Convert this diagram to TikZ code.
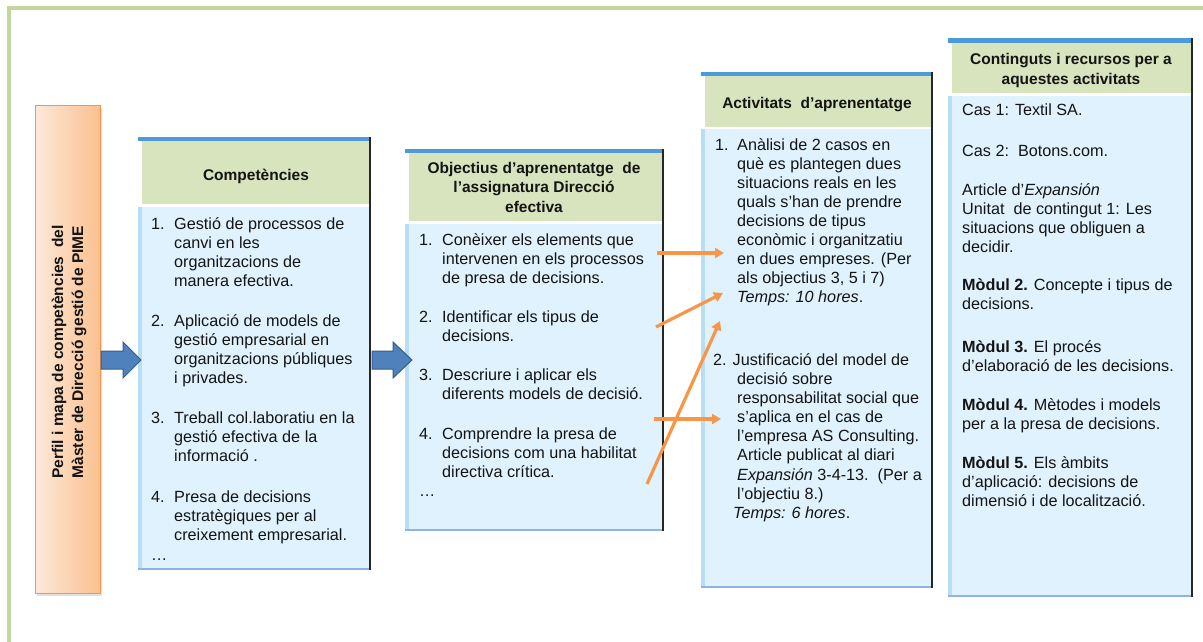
\documentclass[tikz,border=0pt]{standalone}
\usepackage{fontspec}
\setmainfont{Liberation Sans}
\usetikzlibrary{arrows.meta}
\definecolor{frameg}{HTML}{C3D69B}
\definecolor{bodyc}{HTML}{DFF2FD}
\definecolor{stripc}{HTML}{B7DEF7}
\definecolor{headc}{HTML}{D7E4BD}
\definecolor{barc}{HTML}{4C9BD8}
\definecolor{botc}{HTML}{8DB4E2}
\definecolor{orl}{HTML}{FDE9D9}
\definecolor{orr}{HTML}{FAC090}
\definecolor{orb}{HTML}{F79646}
\definecolor{arrf}{HTML}{4F81BD}
\definecolor{arrb}{HTML}{385D8A}
\definecolor{txt}{HTML}{141414}
\newcommand\mycolbox[7]{%
  \fill[bodyc] (#1,#6) rectangle (#2,#7);
  \fill[stripc] (#1,#6) rectangle (#1+4,#7);
  \fill[headc] (#1+4,#4) rectangle (#2,#5);
  \fill[barc] (#1,#3) rectangle (#2,#4);
  \draw[botc, line width=1.4pt] (#1,#7) -- (#2,#7);
  \draw[black!85, line width=1.2pt] (#2,#3) -- (#2,#7+0.7);
}
\newcommand\mylines[1]{\vtop{\halign{##\hfil\cr#1\crcr}}}
\newcommand\mylinesc[1]{\vtop{\halign{\hfil##\hfil\cr#1\crcr}}}
\begin{document}
\begin{tikzpicture}[x=1pt,y=-1pt,
  bodytxt/.style={font=\fontsize{16.2}{19.3}\selectfont, anchor=base west, inner sep=0pt, text=txt},
  headtxt/.style={font=\fontsize{15.5}{19.5}\selectfont\bfseries, anchor=base, inner sep=0pt, text=txt},
  orarrow/.style={draw=orb, line width=3.2pt, -{Triangle[length=9pt,width=10pt]}},
  blockarrow/.style={fill=arrf, draw=arrb, line width=1pt}
]
\useasboundingbox (0,0) rectangle (1203,642);
\fill[white] (0,0) rectangle (1203,642);
% frame
\fill[frameg] (7,6) rectangle (11,642);
\fill[frameg] (7,6) rectangle (1203,10);

% orange box
\fill[black!12] (37,108) rectangle (102,596);
\draw[draw=orb, line width=1pt, left color=orl, right color=orr] (35,106) rectangle (100,593);
\node[rotate=90, font=\fontsize{15.5}{20}\selectfont\bfseries, align=center, inner sep=0pt, text=txt] (perfil) at (69,352)
  {Perfil i mapa de competències\ \ del\\Màster de Direcció gestió de PIME};

% column boxes
\mycolbox{138}{370}{137}{141}{204}{207}{569}
\mycolbox{405}{663}{149}{153}{221}{224}{530}
\mycolbox{701}{932}{72}{76}{127}{129}{587}
\mycolbox{948}{1192}{38}{43}{93}{96}{596}

% block arrows
\coordinate (ba1s) at (101,360);
\coordinate (ba2s) at (372,360);
\draw[blockarrow] (ba1s) ++(0,-9) -- ++(22,0) -- ++(0,-9) -- ++(18,18) -- ++(-18,18) -- ++(0,-9) -- ++(-22,0) -- cycle;
\draw[blockarrow] (ba2s) ++(0,-9) -- ++(21,0) -- ++(0,-9) -- ++(19,18) -- ++(-19,18) -- ++(0,-9) -- ++(-21,0) -- cycle;

% headers
\node[headtxt] (hcomp) at (256,180) {Competències};
\node[headtxt] (hobj) at (534,173) {\mylinesc{Objectius d’aprenentatge\ \ de\cr l’assignatura Direcció\cr efectiva}};
\node[headtxt] (hact) at (817,108) {Activitats\ \ d’aprenentatge};
\node[headtxt] (hcont) at (1071,65) {\mylinesc{Continguts i recursos per a\cr aquestes activitats}};

% Competencies body
\node[bodytxt] (cn1) at (151,229) {1.};
\node[bodytxt] (ct1) at (174,229) {\mylines{Gestió de processos de\cr canvi en les\cr organitzacions de\cr manera efectiva.}};
\node[bodytxt] (cn2) at (151,326) {2.};
\node[bodytxt] (ct2) at (174,326) {\mylines{Aplicació de models de\cr gestió empresarial en\cr organitzacions públiques\cr i privades.}};
\node[bodytxt] (cn3) at (151,423) {3.};
\node[bodytxt] (ct3) at (174,423) {\mylines{Treball col.laboratiu en la\cr gestió efectiva de la\cr informació .}};
\node[bodytxt] (cn4) at (151,502) {4.};
\node[bodytxt] (ct4) at (174,502) {\mylines{Presa de decisions\cr estratègiques per al\cr creixement empresarial.}};
\node[bodytxt] (cdots) at (151,560) {…};

% Objectius body
\node[bodytxt] (on1) at (419,245) {1.};
\node[bodytxt] (ot1) at (442,245) {\mylines{Conèixer els elements que\cr intervenen en els processos\cr de presa de decisions.}};
\node[bodytxt] (on2) at (419,322) {2.};
\node[bodytxt] (ot2) at (442,322) {\mylines{Identificar els tipus de\cr decisions.}};
\node[bodytxt] (on3) at (419,380) {3.};
\node[bodytxt] (ot3) at (442,380) {\mylines{Descriure i aplicar els\cr diferents models de decisió.}};
\node[bodytxt] (on4) at (419,439) {4.};
\node[bodytxt] (ot4) at (442,439) {\mylines{Comprendre la presa de\cr decisions com una habilitat\cr directiva crítica.}};
\node[bodytxt] (odots) at (419,496) {…};

% Activitats body
\node[bodytxt] (an1) at (715,150) {1.};
\node[bodytxt, font=\fontsize{16.2}{19.1}\selectfont] (at1) at (737,150) {\mylines{Anàlisi de 2 casos en\cr què es plantegen dues\cr situacions reals en les\cr quals s’han de prendre\cr decisions de tipus\cr econòmic i organitzatiu\cr en dues empreses. (Per\cr als objectius 3, 5 i 7)\cr \textit{Temps: 10 hores}.}};
\node[bodytxt] (an2) at (713,365) {2. Justificació del model de};
\node[bodytxt, font=\fontsize{16.2}{19.2}\selectfont] (at2) at (737,384) {\mylines{decisió sobre\cr responsabilitat social que\cr s’aplica en el cas de\cr l’empresa AS Consulting.\cr Article publicat al diari\cr \textit{Expansión} 3-4-13.\ \ (Per a\cr l’objectiu 8.)}};
\node[bodytxt] (at2b) at (733,518) {\textit{Temps: 6 hores}.};

% Continguts body
\node[bodytxt] (k1) at (962,115) {Cas 1: Textil SA.};
\node[bodytxt] (k2) at (962,157) {Cas 2:\ \ Botons.com.};
\node[bodytxt] (k3) at (962,195) {\mylines{Article d’\textit{Expansión}\cr Unitat\ \ de contingut 1: Les\cr situacions que obliguen a\cr decidir.}};
\node[bodytxt] (k4) at (962,290) {\mylines{\textbf{Mòdul 2.} Concepte i tipus de\cr decisions.}};
\node[bodytxt] (k5) at (962,352) {\mylines{\textbf{Mòdul 3.} El procés\cr d’elaboració de les decisions.}};
\node[bodytxt] (k6) at (962,410) {\mylines{\textbf{Mòdul 4.} Mètodes i models\cr per a la presa de decisions.}};
\node[bodytxt] (k7) at (962,468) {\mylines{\textbf{Mòdul 5.} Els àmbits\cr d’aplicació: decisions de\cr dimensió i de localització.}};

% orange arrows
\coordinate (o1s) at (657,253); \coordinate (o1e) at (724,253);
\coordinate (o2s) at (656,327); \coordinate (o2e) at (723,293);
\coordinate (o3s) at (647,484); \coordinate (o3e) at (720,321);
\coordinate (o4s) at (654,419); \coordinate (o4e) at (721,419);
\draw[orarrow] (o1s) -- (o1e);
\draw[orarrow] (o2s) -- (o2e);
\draw[orarrow] (o4s) -- (o4e);
\draw[orarrow] (o3s) -- (o3e);
\end{tikzpicture}
\end{document}
